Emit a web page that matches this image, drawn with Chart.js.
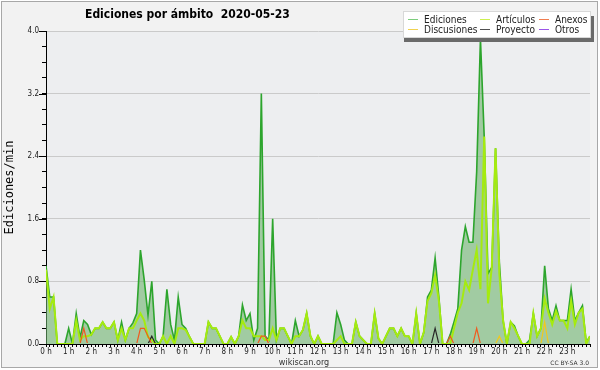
<!DOCTYPE html>
<html><head><meta charset="utf-8">
<script src="https://cdn.jsdelivr.net/npm/chart.js@4"></script>
<style>html,body{margin:0;padding:0;background:#fff}canvas{display:block}</style>
</head><body>
<canvas id="c" width="600" height="370"></canvas>
<script>
// ---- data (one value every 10 minutes, 00:00 .. 24:00) ----
const stepMinutes = 10;
const hourLabels = ['0 h','1 h','2 h','3 h','4 h','5 h','6 h','7 h','8 h','9 h','10 h','11 h',
  '12 h','13 h','14 h','15 h','16 h','17 h','18 h','19 h','20 h','21 h','22 h','23 h'];
const yMajorTicks = [0, 0.8, 1.6, 2.4, 3.2, 4.0];
const seriesNames = ['Ediciones','Artículos','Anexos','Discusiones','Proyecto','Otros'];

const ediciones = [
  1.0,0.6,0.6,0,0,0,0.2,0,0.39,0.08,0.3,0.25,
  0.12,0.2,0.2,0.28,0.2,0.2,0.28,0.05,0.28,0.05,0.2,0.27,
  0.39,1.2,0.82,0.37,0.8,0.05,0,0.1,0.7,0.25,0.05,0.6,
  0.25,0.2,0.09,0,0,0,0,0.28,0.2,0.2,0.1,0,
  0,0.09,0,0.1,0.5,0.3,0.39,0.05,0.2,3.2,0.1,0.05,
  1.6,0.05,0.2,0.2,0.1,0,0.3,0.1,0.18,0.39,0.1,0,
  0.1,0,0,0,0,0.4,0.25,0.05,0,0,0.28,0.1,
  0.05,0,0,0.39,0.07,0,0.1,0.2,0.2,0.1,0.2,0.1,
  0.1,0,0.39,0,0.15,0.6,0.69,1.1,0.6,0,0,0.12,
  0.28,0.45,1.2,1.5,1.3,1.3,2.2,3.9,2.65,0.9,0.98,2.5,
  1.05,0.3,0,0.28,0.23,0.1,0,0,0.05,0.39,0.1,0.2,
  1.0,0.45,0.3,0.49,0.3,0.3,0.3,0.7,0.3,0.4,0.49,0.02,
  0.1
];
const articulos = [
  0.95,0.45,0.6,0,0,0,0,0,0.3,0.05,0.1,0.1,
  0.12,0.2,0.2,0.28,0.2,0.2,0.28,0.05,0.2,0.05,0.2,0.2,
  0.3,0.39,0.3,0.09,0.05,0,0,0.1,0,0.1,0,0.2,
  0.2,0.18,0.09,0,0,0,0,0.28,0.2,0.2,0.1,0,
  0,0.09,0,0.1,0.3,0.2,0.2,0.1,0.1,0.1,0.05,0.05,
  0.2,0.05,0.2,0.2,0.1,0,0.1,0.1,0.18,0.39,0.1,0,
  0.1,0,0,0,0,0.05,0.1,0,0,0,0.28,0.1,
  0.05,0,0,0.39,0.07,0,0.1,0.2,0.2,0.1,0.2,0.1,
  0.1,0,0.39,0,0.15,0.55,0.65,0.88,0.55,0,0,0,
  0.2,0.4,0.52,0.8,0.69,0.95,1.2,0.7,2.65,0.52,0.98,2.5,
  0.9,0.3,0,0.28,0.2,0.1,0,0,0,0.39,0.1,0.2,
  0.58,0.4,0.25,0.42,0.3,0.3,0.2,0.55,0.25,0.4,0.45,0,
  0.1
];
const anexos = [
  0,0,0,0,0,0,0,0,0,0,0.2,0,
  0,0,0,0,0,0,0,0,0,0,0,0,
  0,0.2,0.2,0.1,0,0,0,0,0,0,0,0,
  0,0,0,0,0,0,0,0,0,0,0,0,
  0,0,0,0,0,0,0,0,0,0.1,0.1,0,
  0,0,0,0,0,0,0,0,0,0,0,0,
  0,0,0,0,0,0,0,0,0,0,0,0,
  0,0,0,0,0,0,0,0,0,0,0,0,
  0,0,0,0,0,0,0,0,0,0,0,0.1,
  0,0,0,0,0,0,0.2,0,0,0,0,0,
  0,0,0,0,0,0,0,0,0,0,0,0,
  0,0,0,0,0,0,0,0,0,0,0,0,
  0
];
const discusiones = [
  0,0,0,0,0,0,0,0,0,0,0,0,
  0,0,0,0,0,0,0,0,0,0,0,0,
  0,0,0,0,0,0,0,0,0,0,0,0,
  0,0,0,0,0,0,0,0,0,0,0,0,
  0,0,0,0,0,0,0,0,0,0,0,0,
  0,0,0,0,0,0,0,0,0,0,0,0,
  0,0,0,0,0,0,0,0,0,0,0,0,
  0,0,0,0,0,0,0,0,0,0,0,0,
  0,0,0,0,0,0,0,0,0,0,0,0,
  0,0,0,0,0,0,0,0,0,0,0,0,
  0.1,0,0,0,0,0,0,0,0,0,0,0,
  0.28,0,0,0,0,0,0,0,0,0,0,0,
  0
];
const proyecto = [
  0,0,0,0,0,0,0,0,0,0,0,0,
  0,0,0,0,0,0,0,0,0,0,0,0,
  0,0,0,0,0.1,0,0,0,0,0,0,0,
  0,0,0,0,0,0,0,0,0,0,0,0,
  0,0,0,0,0,0,0,0,0,0,0,0,
  0,0,0,0,0,0,0,0,0,0,0,0,
  0,0,0,0,0,0,0,0,0,0,0,0,
  0,0,0,0,0,0,0,0,0,0,0,0,
  0,0,0,0,0,0,0,0.2,0,0,0,0,
  0,0,0,0,0,0,0,0,0,0,0,0,
  0,0,0,0,0,0,0,0,0,0,0,0,
  0,0,0,0,0,0,0,0,0,0,0,0,
  0
];
const otros = [
  0,0,0,0,0,0,0,0,0,0,0,0,
  0,0,0,0,0,0,0,0,0,0,0,0,
  0,0,0,0,0,0,0,0,0,0,0,0,
  0,0,0,0,0,0,0,0,0,0,0,0,
  0,0,0,0,0,0,0,0,0,0,0,0,
  0,0,0,0,0,0,0,0,0,0,0,0,
  0,0,0,0,0,0,0,0,0,0,0,0,
  0,0,0,0,0,0,0,0,0,0,0,0,
  0,0,0,0,0,0,0,0,0,0,0,0,
  0,0,0,0,0,0,0,0,0,0,0,0,
  0,0,0,0,0,0,0,0,0,0,0,0,
  0,0,0,0,0,0,0,0,0,0,0,0,
  0
];

// ---- styling ----
const COND = '"DejaVu Sans Condensed", "DejaVu Sans", sans-serif';
const lineColors = {
  'Ediciones':'rgb(45,165,45)', 'Artículos':'rgb(165,235,15)', 'Anexos':'rgb(240,90,30)',
  'Discusiones':'rgb(240,200,30)', 'Proyecto':'rgb(40,40,40)', 'Otros':'rgb(150,80,230)'
};
const legendColors = {
  'Ediciones':'rgb(125,205,125)', 'Artículos':'rgb(205,240,80)', 'Anexos':'rgb(240,125,80)',
  'Discusiones':'rgb(240,210,80)', 'Proyecto':'rgb(80,80,80)', 'Otros':'rgb(155,85,232)'
};
const toPts = arr => arr.map((v, i) => ({x: i * stepMinutes, y: v}));
const isMajor = v => yMajorTicks.some(m => Math.abs(m - v) < 1e-6);
const lowClip = {left: 0, top: 0, right: 0, bottom: -1};

const bgPlugin = {
  id: 'bg',
  beforeDraw(chart) {
    const {ctx, chartArea: a} = chart;
    ctx.save();
    ctx.fillStyle = '#ffffff';
    ctx.fillRect(0, 0, chart.width, chart.height);
    ctx.fillStyle = '#f2f2f2';
    ctx.fillRect(1, 1, 597, 367);
    ctx.strokeStyle = '#a8a8a8';
    ctx.lineWidth = 1;
    ctx.strokeRect(1.5, 1.5, 596, 366);
    ctx.fillStyle = '#edeef0';
    ctx.fillRect(a.left, a.top, a.right - a.left, a.bottom - a.top);
    ctx.restore();
  }
};

const overlayPlugin = {
  id: 'overlay',
  afterDraw(chart) {
    const {ctx} = chart;
    const ys = chart.scales.y;
    ctx.save();
    // major y ticks (longer)
    ctx.strokeStyle = '#000';
    ctx.lineWidth = 1;
    yMajorTicks.forEach(v => {
      const py = Math.round(ys.getPixelForValue(v)) + 0.5;
      ctx.beginPath(); ctx.moveTo(39, py); ctx.lineTo(46, py); ctx.stroke();
    });
    // title
    ctx.fillStyle = '#000';
    ctx.font = 'bold 12px ' + COND;
    ctx.textAlign = 'left'; ctx.textBaseline = 'alphabetic';
    ctx.fillText('Ediciones por ámbito  2020-05-23', 85, 18);
    // legend box
    ctx.fillStyle = '#6a6a6a';
    ctx.fillRect(404, 16, 190, 26);
    ctx.fillStyle = '#ffffff';
    ctx.fillRect(403, 11, 188, 27);
    ctx.strokeStyle = '#d8d8d8';
    ctx.strokeRect(403.5, 11.5, 187, 26);
    const colLine = [408, 480, 539], colText = [424, 496, 555];
    const rowLine = [19.5, 29.5], rowText = [22.5, 32.5];
    const order = [['Ediciones','Artículos','Anexos'],['Discusiones','Proyecto','Otros']];
    ctx.font = '10px ' + COND;
    order.forEach((row, r) => row.forEach((name, c) => {
      ctx.strokeStyle = legendColors[name];
      ctx.lineWidth = 1;
      ctx.beginPath(); ctx.moveTo(colLine[c], rowLine[r]); ctx.lineTo(colLine[c] + 10, rowLine[r]); ctx.stroke();
      ctx.fillStyle = '#222';
      ctx.fillText(name, colText[c], rowText[r]);
    }));
    // footer
    ctx.fillStyle = '#333';
    ctx.font = '9px ' + COND;
    ctx.textAlign = 'center';
    ctx.fillText('wikiscan.org', 304, 365);
    ctx.font = '6px "DejaVu Sans", sans-serif';
    ctx.textAlign = 'right';
    ctx.fillText('CC BY-SA 3.0', 589, 364.5);
    ctx.restore();
  }
};

new Chart(document.getElementById('c'), {
  type: 'line',
  data: {
    datasets: [
      {label: 'Ediciones', data: toPts(ediciones), borderColor: lineColors['Ediciones'], borderWidth: 1.6,
       backgroundColor: 'rgba(110,180,110,0.6)', fill: 'origin', order: 6},
      {label: 'Artículos', data: toPts(articulos), borderColor: lineColors['Artículos'], borderWidth: 2,
       fill: false, order: 5},
      {label: 'Otros', data: toPts(otros), borderColor: lineColors['Otros'], borderWidth: 1.2, fill: false, order: 4, clip: lowClip},
      {label: 'Proyecto', data: toPts(proyecto), borderColor: lineColors['Proyecto'], borderWidth: 1.2, fill: false, order: 3, clip: lowClip},
      {label: 'Discusiones', data: toPts(discusiones), borderColor: lineColors['Discusiones'], borderWidth: 1.2, fill: false, order: 2, clip: lowClip},
      {label: 'Anexos', data: toPts(anexos), borderColor: lineColors['Anexos'], borderWidth: 1.2, fill: false, order: 1, clip: lowClip}
    ]
  },
  options: {
    responsive: false,
    animation: false,
    devicePixelRatio: 1,
    events: [],
    elements: {point: {radius: 0}, line: {tension: 0}},
    layout: {padding: {left: 0, right: 10, top: 31, bottom: 0}},
    plugins: {legend: {display: false}, tooltip: {enabled: false}, title: {display: false}},
    scales: {
      x: {
        type: 'linear', min: 0, max: 24 * 60,
        afterFit: s => { s.height = 26; },
        ticks: {
          stepSize: stepMinutes, autoSkip: false, maxRotation: 0, minRotation: 0, padding: 0,
          color: '#222', font: {family: COND, size: 8},
          callback: v => (Math.round(v) % 60 === 0 && v < 1440) ? hourLabels[Math.round(v) / 60] : ''
        },
        grid: {drawOnChartArea: false, drawTicks: true, tickLength: 3, tickColor: '#000', color: '#000'},
        border: {display: true, color: '#000', width: 1}
      },
      y: {
        min: 0, max: 4,
        afterFit: s => { s.width = 46; },
        ticks: {
          stepSize: 0.2, autoSkip: false, padding: 3, color: '#222', font: {family: COND, size: 8},
          callback: v => isMajor(v) ? Number(v).toFixed(1) : ''
        },
        grid: {
          drawTicks: true, tickLength: 4, tickColor: '#000',
          color: c => (c.tick && isMajor(c.tick.value) && c.tick.value > 0.01) ? '#cacaca' : 'rgba(0,0,0,0)'
        },
        border: {display: true, color: '#000', width: 1},
        title: {display: true, text: 'Ediciones/min', color: '#000',
                font: {family: '"DejaVu Sans Mono", monospace', size: 12}, padding: {top: 3, bottom: 0}}
      }
    }
  },
  plugins: [bgPlugin, overlayPlugin]
});
</script>
</body></html>
